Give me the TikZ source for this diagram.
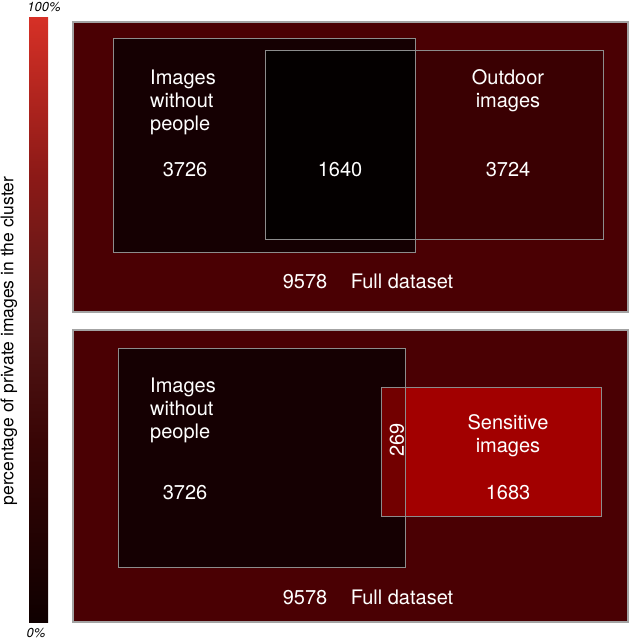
\documentclass[tikz,border=0pt]{standalone}
\usepackage{fontspec}
\setmainfont{TeX Gyre Heros}
\definecolor{panelred}{RGB}{74,0,3}
\definecolor{darkA}{RGB}{21,0,2}
\definecolor{darkB}{RGB}{58,0,2}
\definecolor{blackish}{RGB}{4,0,0}
\definecolor{sensred}{RGB}{162,0,0}
\definecolor{midred}{RGB}{114,0,0}
\definecolor{edgegrey}{RGB}{140,140,140}
\pgfdeclareverticalshading{cbar}{100bp}{rgb(0bp)=(0.06,0,0); rgb(25bp)=(0.06,0,0); rgb(40bp)=(0.22,0.02,0.02); rgb(50bp)=(0.34,0.09,0.09); rgb(62bp)=(0.55,0.1,0.09); rgb(75bp)=(0.84,0.19,0.15); rgb(100bp)=(0.84,0.19,0.15)}
\tikzset{
  lbl/.style={text=white, inner sep=0pt, font=\fontsize{20}{23}\selectfont},
  edge/.style={draw=edgegrey, line width=1pt},
  panel/.style={fill=panelred, draw=edgegrey!80, line width=1.2pt},
}
\begin{document}
\begin{tikzpicture}[x=1pt,y=-1pt]
\useasboundingbox (0,0) rectangle (630,640);
% colour bar
\shade[shading=cbar] (29,17) rectangle (48,622);
\node[inner sep=0pt, font=\fontsize{13}{15}\selectfont\itshape] (top) at (44,7) {100\%};
\node[inner sep=0pt, font=\fontsize{13}{15}\selectfont\itshape] (bot) at (36,633) {0\%};
\node[inner sep=0pt, rotate=90, font=\fontsize{17.5}{20}\selectfont] (axis) at (9,341) {percentage of private images in the cluster};
% ---------- top panel ----------
\draw[panel] (73,22) rectangle (628,312);
\fill[darkA] (113,38) rectangle (415,252);
\fill[darkB] (265,50) rectangle (603,239);
\fill[blackish] (265,50) rectangle (415,239);
\draw[edge] (113,38) rectangle (415,252);
\draw[edge] (265,50) rectangle (603,239);
\node[lbl, align=left, anchor=west] (nop1) at (150,102) {Images\\without\\people};
\node[lbl] (n1) at (185,170) {3726};
\node[lbl] (n2) at (340,170) {1640};
\node[lbl, align=center] (out) at (508,90.5) {Outdoor\\images};
\node[lbl] (n3) at (508,170) {3724};
\node[lbl] (full1n) at (305,282) {9578};
\node[lbl] (full1) at (402,281) {Full dataset};
% ---------- bottom panel ----------
\draw[panel] (73,330) rectangle (628,622);
\fill[darkA] (118,348) rectangle (405,567);
\fill[sensred] (381,387) rectangle (601,516);
\fill[midred] (381,387) rectangle (405,516);
\draw[edge] (118,348) rectangle (405,567);
\draw[edge] (381,387) rectangle (601,516);
\node[lbl, align=left, anchor=west] (nop2) at (150,410) {Images\\without\\people};
\node[lbl] (m1) at (185,493) {3726};
\node[lbl, rotate=90] (m2) at (397,440) {269};
\node[lbl, align=center] (sens) at (508,436) {Sensitive\\images};
\node[lbl] (m3) at (508,493) {1683};
\node[lbl] (full2n) at (305,598) {9578};
\node[lbl] (full2) at (402,597) {Full dataset};
\end{tikzpicture}
\end{document}
